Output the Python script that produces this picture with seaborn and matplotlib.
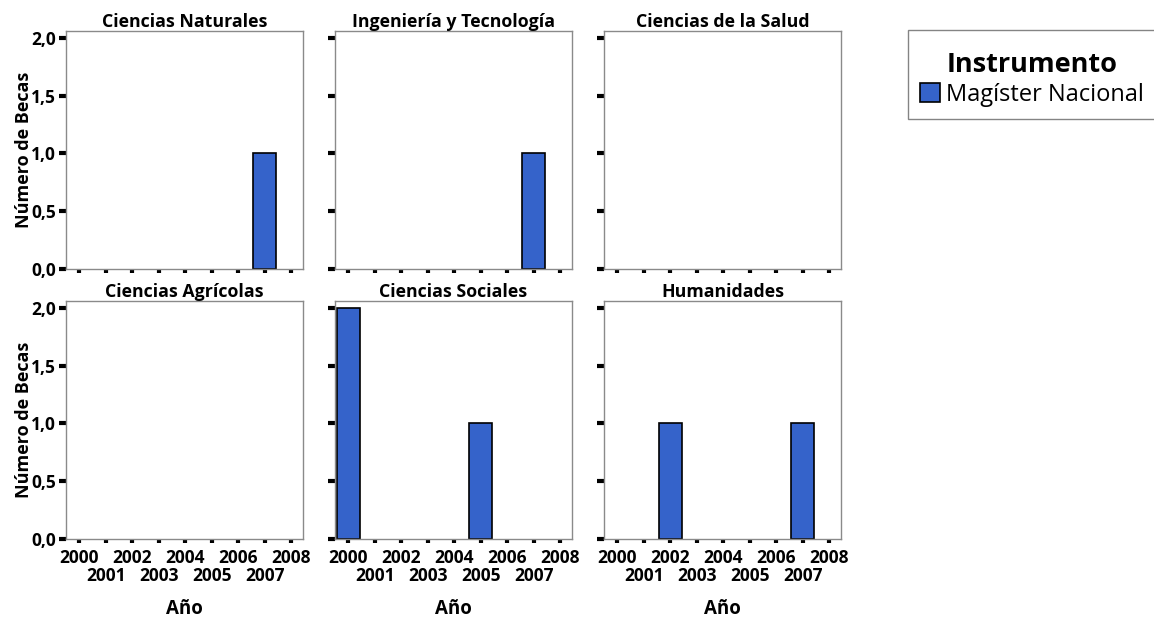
import matplotlib
matplotlib.use("Agg")
import matplotlib.pyplot as plt
from matplotlib.patches import Patch
from matplotlib.offsetbox import DrawingArea
import seaborn as sns
import pandas as pd

sns.set_style("white")
plt.rcParams['font.family'] = ['Open Sans', 'DejaVu Sans']
for k in ["text.color", "axes.labelcolor", "xtick.color", "ytick.color"]:
    plt.rcParams[k] = "black"

areas = ["Ciencias Naturales", "Ingeniería y Tecnología", "Ciencias de la Salud",
         "Ciencias Agrícolas", "Ciencias Sociales", "Humanidades"]
years = [2000, 2001, 2002, 2003, 2004, 2005, 2006, 2007, 2008]
naturales = [0, 0, 0, 0, 0, 0, 0, 1, 0]
ingenieria = [0, 0, 0, 0, 0, 0, 0, 1, 0]
salud = [0, 0, 0, 0, 0, 0, 0, 0, 0]
agricolas = [0, 0, 0, 0, 0, 0, 0, 0, 0]
sociales = [2, 0, 0, 0, 0, 1, 0, 0, 0]
humanidades = [0, 0, 1, 0, 0, 0, 0, 1, 0]
series = [naturales, ingenieria, salud, agricolas, sociales, humanidades]
instrumento = "Magíster Nacional"
yticks = [0.0, 0.5, 1.0, 1.5, 2.0]

bar_color = "#3563CA"
W, H = 1154, 619
fig = plt.figure(figsize=(W / 100, H / 100), dpi=100)

col_left = [66, 335, 604]
row_top = [31, 301]
aw, ah = 237, 238
fs_tick = 12.5
fs_title = 12.8

even_pos = [i for i, y in enumerate(years) if y % 2 == 0]
odd_pos = [i for i, y in enumerate(years) if y % 2 == 1]

for i, (area, vals) in enumerate(zip(areas, series)):
    r, c = divmod(i, 3)
    x0 = col_left[c]
    y0 = row_top[r]
    ax = fig.add_axes([x0 / W, 1 - (y0 + ah) / H, aw / W, ah / H])
    df = pd.DataFrame({"Año": years, "Becas": vals})
    sns.barplot(data=df, x="Año", y="Becas", order=years, color=bar_color,
                saturation=1, width=0.86, edgecolor="black", linewidth=1.2, ax=ax)
    for p in ax.patches:
        if p.get_height() == 0:
            p.set_visible(False)
    ax.set_xlim(-0.5, 8.45)
    ax.set_ylim(0, 2.06)
    ax.set_yticks(yticks)
    ax.set_xticks(even_pos)
    ax.set_xticks(odd_pos, minor=True)
    for s in ax.spines.values():
        s.set_visible(True)
        s.set_color("#8a8a8a")
        s.set_linewidth(1)
    ax.tick_params(axis="y", which="major", left=True, length=5, width=3,
                   color="black", direction="out", pad=2, labelsize=fs_tick)
    ax.tick_params(axis="x", which="both", bottom=True, length=3, width=3,
                   color="black", direction="out", pad=4, labelsize=fs_tick)
    ax.tick_params(axis="x", which="minor", pad=17)
    ax.set_title(area, fontsize=fs_title, fontweight="bold", pad=3)
    if c == 0:
        ax.set_yticklabels([f"{v:.1f}".replace(".", ",") for v in yticks],
                           fontweight="bold")
        ax.set_ylabel("Número de Becas", fontsize=13, fontweight="bold", labelpad=-1)
    else:
        ax.set_yticklabels([])
        ax.set_ylabel("")
    if r == 1:
        ax.set_xticklabels([str(years[k]) for k in even_pos], fontweight="bold")
        ax.set_xticklabels([str(years[k]) for k in odd_pos], minor=True,
                           fontweight="bold")
        ax.set_xlabel("Año", fontsize=13.5, fontweight="bold", labelpad=10)
    else:
        ax.set_xticklabels([])
        ax.set_xticklabels([], minor=True)
        ax.set_xlabel("")

handles = [Patch(facecolor=bar_color, edgecolor="black", linewidth=1.2, label=instrumento)]
leg = fig.legend(handles=handles, title="Instrumento", loc="upper left",
                 bbox_to_anchor=(908 / W, 1 - 30 / H), frameon=True, fancybox=False,
                 fontsize=17, title_fontproperties={"weight": "bold", "size": 19.5},
                 handlelength=0.85, handleheight=0.85, handletextpad=0.25,
                 borderpad=0.5, borderaxespad=0, labelspacing=0.2)
leg.get_frame().set_edgecolor("#666666")
leg.get_frame().set_linewidth(1)
try:
    leg._legend_box._children.insert(0, DrawingArea(1, 4))
except Exception:
    pass

fig.savefig("out.png", dpi=100)
